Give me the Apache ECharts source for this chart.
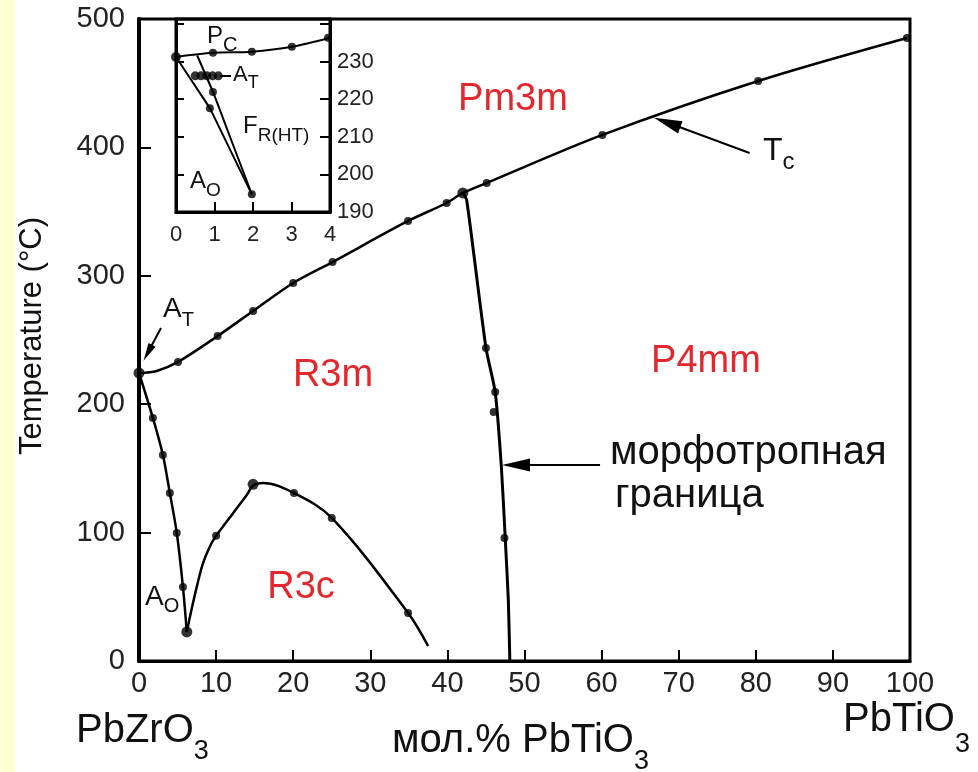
<!DOCTYPE html>
<html><head><meta charset="utf-8">
<script src="https://cdn.jsdelivr.net/npm/echarts@6/dist/echarts.min.js"></script>
<style>html,body{margin:0;padding:0;background:#fff}#c{width:978px;height:772px}</style>
</head><body><div id="c"></div>
<script>
// ---- tick values ----
const xTickValues = [0,10,20,30,40,50,60,70,80,90,100];
const yTickValues = [0,100,200,300,400,500];
const insetXTickValues = [0,1,2,3,4];
const insetYTickValues = [190,200,210,220,230];

// ---- main diagram: phase boundaries (mol.% PbTiO3, °C) ----
const tcCurve = [[0,224.3],[2.3,225.9],[5.06,232.9],[10.2,253.1],[14.8,272.6],[20.0,294.4],[25.1,310.7],[34.9,342.7],[39.9,356.7],[42.0,364.5],[45.1,372.3],[60.1,409.7],[80.3,451.7],[99.6,485.2]];
const aoCurve = [[0,224.3],[1.8,189.3],[3.1,160.4],[4.0,130.8],[4.9,99.7],[5.7,57.6],[6.2,22.6]];
const r3cCurve = [[6.2,22.6],[6.8,39.7],[7.5,57.9],[8.3,76.1],[9.4,91.7],[10.1,98.2],[12.2,115.1],[14.0,129.4],[14.8,136.6],[16.1,138.6],[20.1,130.8],[25.0,111.4],[34.9,37.4],[37.5,11.7]];
const mpbCurve = [[42.0,364.5],[42.5,359.0],[45.0,243.8],[46.2,209.5],[47.0,151.1],[47.5,95.8],[47.9,47.5],[48.1,0]];
// measured points
const tcDots = [[5.06,232.9],[10.2,253.1],[14.8,272.6],[20.0,294.4],[25.1,310.7],[34.9,342.7],[39.9,356.7],[45.1,372.3],[60.1,409.7],[80.3,451.7],[99.6,485.2]];
const aoDots = [[1.8,189.3],[3.1,160.4],[4.0,130.8],[4.9,99.7],[5.7,57.6]];
const r3cDots = [[10.0,97.5],[20.1,130.8],[25.0,111.4],[34.9,37.4]];
const mpbDots = [[45.0,243.8],[46.2,209.5],[46.0,193.9],[47.4,95.8]];
const bigDots = [[0,224.3],[42.0,364.5],[6.2,22.6],[14.8,137.6]];

// ---- inset (0-4 mol.%, 190-240 °C) ----
const insetPc = [[0,231.2],[0.96,232.3],[1.97,232.6],[3.01,233.9],[4.0,236.3]];
const insetLine1 = [[0,231.2],[0.88,217.6],[1.97,194.7]];
const insetLine2 = [[0.55,231.6],[0.96,221.9],[1.35,211.4],[1.97,194.7]];
const insetDots = [[0.96,232.3],[1.97,232.6],[3.01,233.9],[3.95,236.3],[0.88,217.6],[0.96,221.9],[1.97,194.7]];
const insetAT = [[0.5,226.2],[0.65,226.2],[0.8,226.2],[0.95,226.2],[1.1,226.2]];
const insetBig = [[0,231.2]];

// ---- annotation arrows (data coords) ----
const arrowTc = [[79.2,395.6],[68.5,419.4]];
const arrowMpb = [[59.8,152.6],[48.9,152.6]];
const arrowAT = [[2.85,259.3],[1.14,240.0]];
const insetDash = [[1.14,226.2],[1.43,226.2]];

const FONT = '"Liberation Sans", Arial, sans-serif';
const RED = '#E3272C';
const cv = document.createElement('canvas').getContext('2d');
function tw(t, s){ cv.font = s + 'px ' + FONT; return cv.measureText(t).width; }
function txt(x, y, t, s, o){ return {type:'text', z:100, silent:true, style:Object.assign({text:t, x:x, y:y, font:s+'px '+FONT, fill:'#111', align:'left', verticalAlign:'middle'}, o||{})}; }
function subTxt(x, y, main, s, sub, ss, dy, o){ const w = tw(main, s); return [txt(x,y,main,s,o), txt(x+w, y+dy, sub, ss, o)]; }

const chart = echarts.init(document.getElementById('c'), null, {renderer:'canvas'});

const lineBase = {type:'line', smooth:0.3, symbol:'none', silent:true, lineStyle:{color:'#000', width:2.5}, z:3};
const dotBase = {type:'scatter', symbol:'circle', silent:true, itemStyle:{color:'#000'}, z:4};

const graphics = [].concat(
  [{type:'rect', z:-10, silent:true, shape:{x:0,y:0,width:15,height:772}, style:{fill:'#FFFFD4'}}],
  [{type:'text', z:100, silent:true, x:32, y:336, rotation:Math.PI/2, style:{text:'Temperature (°C)', x:0, y:0, font:'31px '+FONT, fill:'#111', align:'center', verticalAlign:'middle'}}],
  subTxt(76, 731, 'PbZrO', 40, '3', 27, 21),
  subTxt(392, 741, 'мол.% PbTiO', 40, '3', 27, 21),
  subTxt(843, 720, 'PbTiO', 40, '3', 27, 25),
  subTxt(763, 151, 'T', 32, 'c', 24, 11),
  subTxt(163, 309, 'A', 28, 'T', 20, 11),
  subTxt(145, 597, 'A', 28, 'O', 20, 9),
  subTxt(207, 36.5, 'P', 24, 'C', 20, 9),
  subTxt(233, 75, 'A', 22, 'T', 18, 8),
  subTxt(243, 126.5, 'F', 24, 'R(HT)', 19, 9),
  subTxt(190, 181.5, 'A', 24, 'O', 19, 9),
  [
    txt(513, 100, 'Pm3m', 38, {fill:RED, align:'center'}),
    txt(333, 376, 'R3m', 38, {fill:RED, align:'center'}),
    txt(706, 362, 'P4mm', 38, {fill:RED, align:'center'}),
    txt(301, 588, 'R3c', 38, {fill:RED, align:'center'}),
    txt(610, 453, 'морфотропная', 40),
    txt(615, 496, 'граница', 40)
  ]
);

const option = {
  animation:false,
  backgroundColor:'#fff',
  textStyle:{fontFamily:FONT},
  grid:[
    {left:139, width:771, top:19, height:642, show:true, borderColor:'#000', borderWidth:3, backgroundColor:'transparent'},
    {left:176, width:154, top:19, height:193, show:true, borderColor:'#000', borderWidth:3, backgroundColor:'transparent'}
  ],
  xAxis:[
    {gridIndex:0, type:'value', min:xTickValues[0], max:xTickValues[xTickValues.length-1], interval:xTickValues[1]-xTickValues[0],
     axisLine:{show:true, onZero:false, lineStyle:{color:'#000', width:3}}, axisTick:{show:true, inside:true, length:11, lineStyle:{color:'#000', width:2}},
     axisLabel:{fontSize:29, color:'#222', margin:8, fontFamily:FONT}, splitLine:{show:false}},
    {gridIndex:1, type:'value', min:insetXTickValues[0], max:insetXTickValues[insetXTickValues.length-1], interval:1,
     axisLine:{show:true, onZero:false, lineStyle:{color:'#000', width:3}}, axisTick:{show:true, inside:true, length:10, lineStyle:{color:'#000', width:2}},
     axisLabel:{fontSize:22, color:'#222', margin:12, fontFamily:FONT}, splitLine:{show:false}}
  ],
  yAxis:[
    {gridIndex:0, type:'value', min:yTickValues[0], max:yTickValues[yTickValues.length-1], interval:100,
     axisLine:{show:true, onZero:false, lineStyle:{color:'#000', width:4}}, axisTick:{show:true, inside:true, length:12, lineStyle:{color:'#000', width:2}},
     axisLabel:{fontSize:29, color:'#222', margin:14, fontFamily:FONT}, splitLine:{show:false}},
    {gridIndex:1, type:'value', position:'right', min:insetYTickValues[0], max:241.3, interval:10,
     axisLine:{show:true, onZero:false, lineStyle:{color:'#000', width:3}}, axisTick:{show:true, inside:true, length:10, lineStyle:{color:'#000', width:2}},
     axisLabel:{fontSize:22, color:'#222', margin:7, fontFamily:FONT, formatter:function(v){ return insetYTickValues.indexOf(v) >= 0 ? String(v) : ''; }}, splitLine:{show:false}},
    {gridIndex:1, type:'value', position:'left', min:insetYTickValues[0], max:241.3, interval:10,
     axisLine:{show:true, onZero:false, lineStyle:{color:'#000', width:3}}, axisTick:{show:true, inside:true, length:8, lineStyle:{color:'#000', width:2}},
     axisLabel:{show:false}, splitLine:{show:false}}
  ],
  series:[
    Object.assign({}, lineBase, {data:tcCurve,
      markLine:{silent:true, symbol:['none','triangle'], symbolSize:[13,28], animation:false,
        lineStyle:{color:'#000', width:2, type:'solid'}, label:{show:false}, emphasis:{disabled:true},
        data:[
          [{coord:arrowTc[0]},{coord:arrowTc[1]}],
          [{coord:arrowMpb[0]},{coord:arrowMpb[1]}],
          [{coord:arrowAT[0]},{coord:arrowAT[1], symbolSize:[8,18]}]
        ]}}),
    Object.assign({}, lineBase, {data:aoCurve}),
    Object.assign({}, lineBase, {data:r3cCurve, smooth:0.35}),
    Object.assign({}, lineBase, {data:mpbCurve, smooth:0.2, lineStyle:{color:'#000', width:3}}),
    Object.assign({}, dotBase, {data:[].concat(tcDots, aoDots, r3cDots, mpbDots), symbolSize:8}),
    Object.assign({}, dotBase, {data:bigDots, symbolSize:11}),
    Object.assign({}, lineBase, {xAxisIndex:1, yAxisIndex:1, data:insetPc, lineStyle:{color:'#000', width:2}, z:5}),
    Object.assign({}, lineBase, {xAxisIndex:1, yAxisIndex:1, data:insetLine1, smooth:0, lineStyle:{color:'#000', width:2}, z:5}),
    Object.assign({}, lineBase, {xAxisIndex:1, yAxisIndex:1, data:insetLine2, smooth:0.2, lineStyle:{color:'#000', width:2}, z:5}),
    Object.assign({}, dotBase, {xAxisIndex:1, yAxisIndex:1, data:insetDots, symbolSize:8, z:6,
      markLine:{silent:true, symbol:['none','none'], animation:false, lineStyle:{color:'#000', width:2, type:'solid'}, label:{show:false},
        data:[[{coord:insetDash[0]},{coord:insetDash[1]}]]}}),
    Object.assign({}, dotBase, {xAxisIndex:1, yAxisIndex:1, data:insetAT, symbolSize:9, z:6}),
    Object.assign({}, dotBase, {xAxisIndex:1, yAxisIndex:1, data:insetBig, symbolSize:10, z:6})
  ],
  graphic:graphics
};
chart.setOption(option);
</script></body></html>
